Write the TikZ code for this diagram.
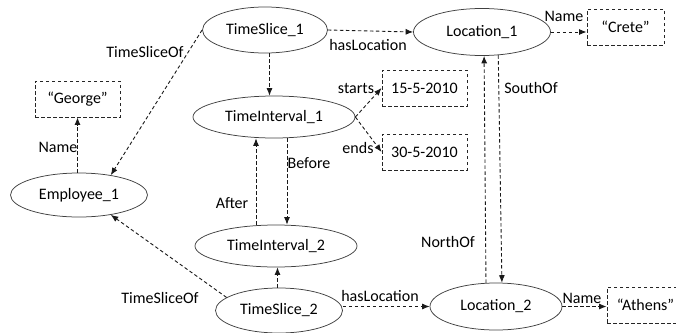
\documentclass[tikz,border=0pt]{standalone}
\usepackage{fontspec}
\setmainfont{Carlito}
\usetikzlibrary{shapes.geometric,arrows.meta,calc}
\begin{document}
\begin{tikzpicture}[x=1pt,y=-1pt,
  font=\fontsize{16}{19}\selectfont,
  ent/.style={ellipse, draw=black!75, line width=0.75pt, inner sep=0pt},
  lit/.style={draw=black!85, line width=0.9pt, dash pattern=on 3.5pt off 2.5pt,
    inner sep=0pt, minimum width=85, minimum height=36},
  rel/.style={draw=black!90, line width=0.9pt, dash pattern=on 3.5pt off 2.5pt,
    -{Latex[length=7.5pt,width=6pt]}},
  lbl/.style={inner sep=1pt}]
\useasboundingbox (0,0) rectangle (676,332);

% entities
\node[ent, minimum width=125, minimum height=46] (ts1)  at (265,30)    {TimeSlice\_1};
\node[ent, minimum width=137, minimum height=47] (loc1) at (482,32)    {Location\_1};
\node[ent, minimum width=162, minimum height=42] (ti1)  at (274,117)   {TimeInterval\_1};
\node[ent, minimum width=137, minimum height=44] (emp)  at (79,195)    {Employee\_1};
\node[ent, minimum width=162, minimum height=42] (ti2)  at (276,246)   {TimeInterval\_2};
\node[ent, minimum width=127, minimum height=45] (ts2)  at (279,310.5) {TimeSlice\_2};
\node[ent, minimum width=132, minimum height=47] (loc2) at (496,306.5) {Location\_2};

% literal values
\node[lit, minimum width=77] (crete)  at (625.5,27) {“Crete”};
\node[lit]                   (d15)    at (424.5,88) {15-5-2010};
\node[lit]                   (d30)    at (424.5,152) {30-5-2010};
\node[lit]                   (george) at (77.5,99)  {“George”};
\node[lit, minimum width=77] (athens) at (645.5,305) {“Athens”};

% helper x positions for parallel vertical links
\coordinate (m1) at ($(ts1.south)!0.5!(ti1.north)$);
\coordinate (m2) at ($(ts2.north)!0.5!(ti2.south)$);
\coordinate (bx) at ($(ti1.south)+(13,0)$);
\coordinate (ax) at ($(ti1.south)+(-18,0)$);

% relations
\draw[rel] (ts1.west) -- (emp.32);
\draw[rel] (ts1.east) -- (loc1.west);
\draw[rel] (ts1.south -| m1) -- (ti1.north -| m1);
\draw[rel] (loc1.east) -- (loc1.east -| crete.west);
\draw[rel] (emp.north -| george.south) -- (george.south);
\draw[rel] (ti1.east) -- (d15.west);
\draw[rel] (ti1.east) -- (d30.west);
\draw[rel] (ti1.south -| bx) -- (ti2.north -| bx);
\draw[rel] (ti2.north -| ax) -- (ti1.south -| ax);
\draw[rel] (ts2.north -| m2) -- (ti2.south -| m2);
\draw[rel] (ts2.166) -- (emp.-32);
\draw[rel] (ts2.east |- loc2.west) -- (loc2.west);
\draw[rel] (loc2.east) -- (loc2.east -| athens.west);
\draw[rel] (loc1.-55) -- (loc2.76);
\draw[rel] (loc2.113) -- (loc1.-85);

% relation labels
\node[lbl] (l1)  at (145,52)  {TimeSliceOf};
\node[lbl] (l2)  at (368,45)  {hasLocation};
\node[lbl] (l3)  at (564,16)  {Name};
\node[lbl] (l4)  at (58,147)  {Name};
\node[lbl] (l5)  at (356,88)  {starts};
\node[lbl] (l6)  at (358,148) {ends};
\node[lbl] (l7)  at (309,163) {Before};
\node[lbl] (l8)  at (232,203) {After};
\node[lbl] (l9)  at (160,298) {TimeSliceOf};
\node[lbl] (l10) at (380,296) {hasLocation};
\node[lbl] (l11) at (582,298) {Name};
\node[lbl] (l12) at (531,88)  {SouthOf};
\node[lbl] (l13) at (448,242) {NorthOf};
\end{tikzpicture}
\end{document}
